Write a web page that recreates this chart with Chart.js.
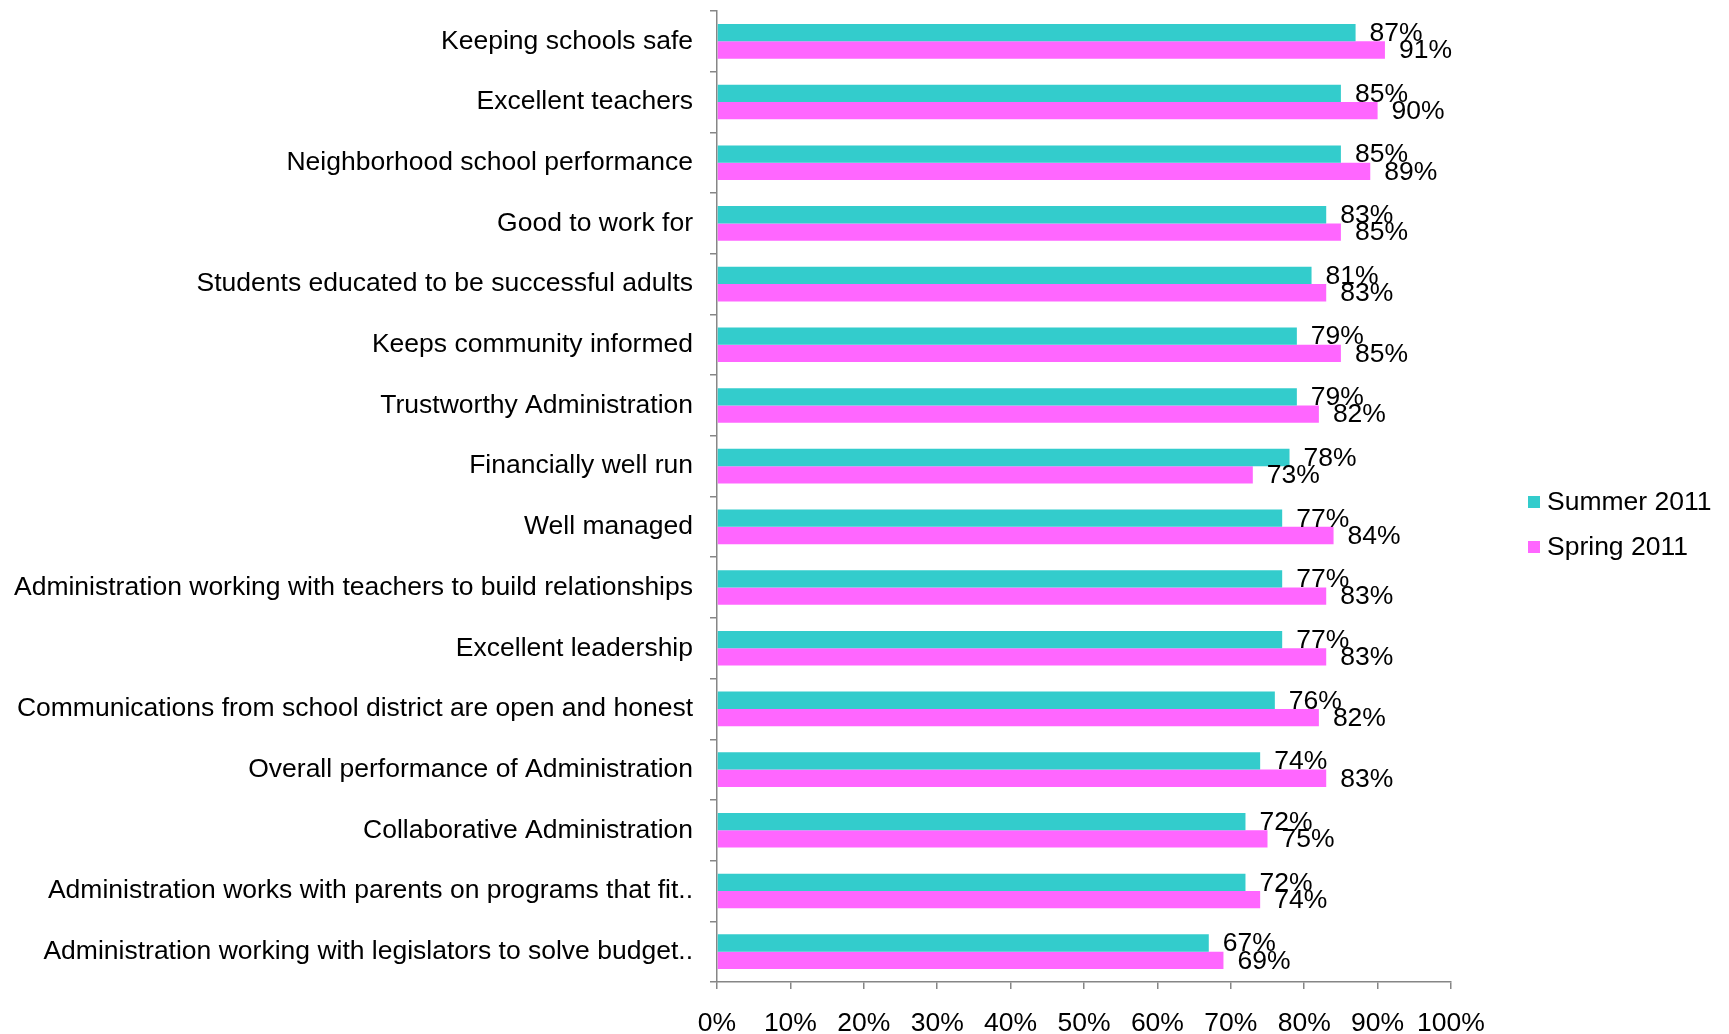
<!DOCTYPE html>
<html>
<head>
<meta charset="utf-8">
<script src="https://cdn.jsdelivr.net/npm/chart.js@4.4.0/dist/chart.umd.min.js"></script>
<style>
    html, body { margin: 0; padding: 0; background: #fff; }
    #wrap { position: relative; width: 1729px; height: 1034px; }
</style>
</head>
<body>
<div id="wrap"><canvas id="barChart"></canvas></div>
<script>
// chart data
const categories = [
    'Keeping schools safe',
    'Excellent teachers',
    'Neighborhood school performance',
    'Good to work for',
    'Students educated to be successful adults',
    'Keeps community informed',
    'Trustworthy Administration',
    'Financially well run',
    'Well managed',
    'Administration working with teachers to build relationships',
    'Excellent leadership',
    'Communications from school district are open and honest',
    'Overall performance of Administration',
    'Collaborative Administration',
    'Administration works with parents on programs that fit..',
    'Administration working with legislators to solve budget..'
];
const summer2011 = [87, 85, 85, 83, 81, 79, 79, 78, 77, 77, 77, 76, 74, 72, 72, 67];
const spring2011 = [91, 90, 89, 85, 83, 85, 82, 73, 84, 83, 83, 82, 83, 75, 74, 69];
const xTicks = [0, 10, 20, 30, 40, 50, 60, 70, 80, 90, 100];

const seriesNames = ['Summer 2011', 'Spring 2011'];
const seriesColors = ['#33CCCC', '#FF66FF'];

const fontFamily = '"Liberation Sans", Arial, sans-serif';
const fontSize = 26.5;
const axisGray = '#868686';

// value labels at the end of each bar
const valueLabels = {
    id: 'valueLabels',
    afterDatasetsDraw(chart) {
        const ctx = chart.ctx;
        ctx.save();
        ctx.font = fontSize + 'px ' + fontFamily;
        ctx.fillStyle = '#000';
        ctx.textAlign = 'left';
        ctx.textBaseline = 'middle';
        chart.data.datasets.forEach((ds, i) => {
            chart.getDatasetMeta(i).data.forEach((bar, j) => {
                ctx.fillText(ds.data[j] + '%', bar.x + 14, bar.y + 1);
            });
        });
        ctx.restore();
    }
};

// legend on the right side
const sideLegend = {
    id: 'sideLegend',
    afterDraw(chart) {
        const ctx = chart.ctx;
        const area = chart.chartArea;
        ctx.save();
        ctx.font = fontSize + 'px ' + fontFamily;
        ctx.textBaseline = 'middle';
        ctx.textAlign = 'left';
        seriesNames.forEach((name, i) => {
            const x = area.right + 77;
            const y = 502 + i * 45;
            ctx.fillStyle = seriesColors[i];
            ctx.fillRect(x, y - 6, 12, 12);
            ctx.fillStyle = '#000';
            ctx.fillText(name, x + 19, y + 1);
        });
        ctx.restore();
    }
};

const ctxBar = document.getElementById('barChart').getContext('2d');
const barChart = new Chart(ctxBar, {
    type: 'bar',
    data: {
        labels: categories,
        datasets: [
            {
                label: seriesNames[0],
                data: summer2011,
                backgroundColor: seriesColors[0],
                borderWidth: 0
            },
            {
                label: seriesNames[1],
                data: spring2011,
                backgroundColor: seriesColors[1],
                borderWidth: 0
            }
        ]
    },
    options: {
        indexAxis: 'y',
        responsive: true,
        maintainAspectRatio: false,
        animation: false,
        barPercentage: 1,
        categoryPercentage: 0.57,
        layout: {
            padding: { top: 11, right: 278, left: 0, bottom: 0 }
        },
        plugins: {
            legend: { display: false },
            tooltip: { enabled: false }
        },
        scales: {
            y: {
                type: 'category',
                grid: {
                    offset: true,
                    drawOnChartArea: false,
                    tickLength: 7,
                    color: axisGray,
                    lineWidth: 1.5
                },
                border: { color: axisGray, width: 1.5 },
                ticks: {
                    autoSkip: false,
                    color: '#000',
                    padding: 17,
                    font: { family: fontFamily, size: fontSize }
                },
                afterFit: function(scale) {
                    scale.width = 717;
                    // labels sit inside the categories, no extra room needed
                    scale.paddingTop = 0;
                    scale.paddingBottom = 0;
                }
            },
            x: {
                min: 0,
                max: 100,
                afterBuildTicks: function(scale) {
                    scale.ticks = xTicks.map(v => ({ value: v }));
                },
                grid: {
                    drawOnChartArea: false,
                    tickLength: 7,
                    color: axisGray,
                    lineWidth: 1.5
                },
                border: { color: axisGray, width: 1.5 },
                ticks: {
                    color: '#000',
                    padding: 19,
                    maxRotation: 0,
                    font: { family: fontFamily, size: fontSize },
                    callback: function(v) { return v + '%'; }
                },
                afterFit: function(scale) {
                    scale.height = 52;
                }
            }
        }
    },
    plugins: [valueLabels, sideLegend]
});
</script>
</body>
</html>
